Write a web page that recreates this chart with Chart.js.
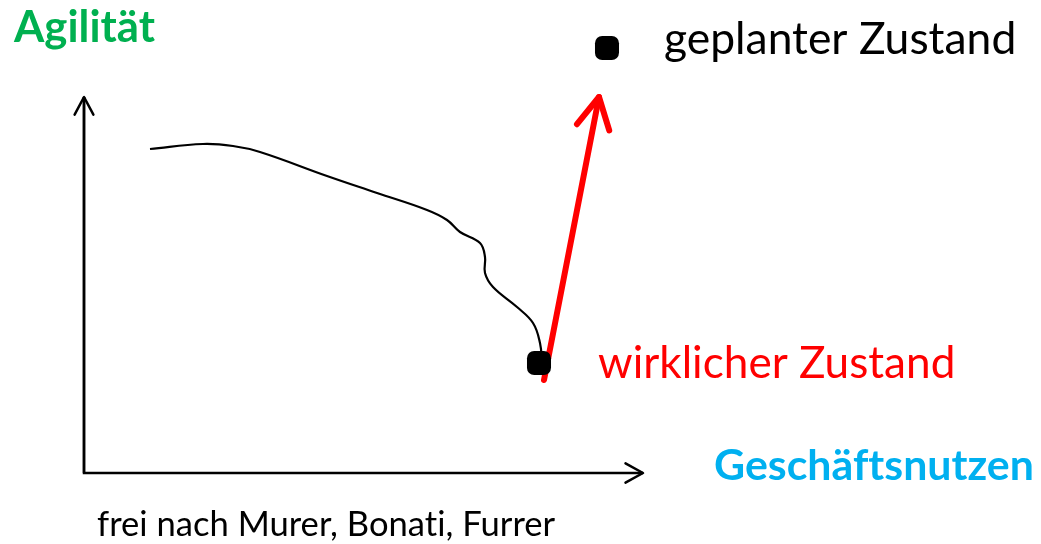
<!DOCTYPE html>
<html>
<head>
<meta charset="utf-8">
<script src="https://cdn.jsdelivr.net/npm/chart.js@4.4.0/dist/chart.umd.min.js"></script>
<style>
    html, body { margin: 0; padding: 0; background: #fff; }
</style>
</head>
<body>
<canvas id="grafico" width="1041" height="544"></canvas>
<script>
const achseX = [0, 0, 559];
const achseY = [376, 0, 0];

const kurveX = [66, 119, 149, 176, 243, 293, 343, 363, 376, 396, 401, 401, 409, 433, 449, 456, 458];
const kurveY = [324, 329, 327, 321, 297, 280, 263, 253, 241, 230, 216, 200, 186, 166, 150, 130, 110];

const pfeilX = [460, 515];
const pfeilY = [93, 376];

const istX = [455];
const istY = [110];
const planX = [523];
const planY = [425];

const texte = {
    yAchse: 'Agilität',
    xAchse: 'Geschäftsnutzen',
    plan: 'geplanter Zustand',
    ist: 'wirklicher Zustand',
    quelle: 'frei nach Murer, Bonati, Furrer'
};

const punkte = (xs, ys) => xs.map((x, i) => ({ x, y: ys[i] }));

// Pfeilspitzen am letzten Punkt einer Linie
const pfeilspitzen = {
    id: 'pfeilspitzen',
    afterDatasetsDraw(chart) {
        const ctx = chart.ctx;
        chart.data.datasets.forEach((ds, i) => {
            if (!ds.spitze) return;
            const pts = chart.getDatasetMeta(i).data;
            const a = pts[pts.length - 2], b = pts[pts.length - 1];
            const ang = Math.atan2(b.y - a.y, b.x - a.x);
            const len = ds.spitze.laenge, w = ds.spitze.winkel * Math.PI / 180;
            ctx.save();
            ctx.strokeStyle = ds.borderColor;
            ctx.lineWidth = ds.borderWidth;
            ctx.lineCap = 'round';
            ctx.lineJoin = 'round';
            ctx.beginPath();
            ctx.moveTo(b.x - len * Math.cos(ang - w), b.y - len * Math.sin(ang - w));
            ctx.lineTo(b.x, b.y);
            ctx.lineTo(b.x - len * Math.cos(ang + w), b.y - len * Math.sin(ang + w));
            ctx.stroke();
            ctx.restore();
        });
    }
};

// Beschriftungen, Schriftgrösse wird auf die Breite im Original angepasst
const beschriftung = {
    id: 'beschriftung',
    afterDraw(chart) {
        const ctx = chart.ctx;
        const schreib = (text, links, rechts, basis, farbe, fett) => {
            const stil = fett ? 'bold ' : '';
            ctx.font = stil + '100px Lato';
            const s = 100 * (rechts - links) / ctx.measureText(text).width;
            ctx.font = stil + s.toFixed(1) + 'px Lato';
            ctx.fillStyle = farbe;
            ctx.textBaseline = 'alphabetic';
            ctx.fillText(text, links, basis);
        };
        ctx.save();
        ctx.letterSpacing = '0.01px'; // keine Ligaturen (ti, ft)
        schreib(texte.yAchse, 14, 155, 42, '#00B050', true);
        schreib(texte.plan, 664, 1016, 54, '#000000', false);
        schreib(texte.ist, 598, 955, 378, '#FF0000', false);
        schreib(texte.xAchse, 714, 1034, 480, '#00B0F0', true);
        schreib(texte.quelle, 97, 555, 536, '#000000', false);
        ctx.restore();
    }
};

new Chart(document.getElementById('grafico'), {
    type: 'scatter',
    data: {
        datasets: [
            {
                data: punkte(istX, istY),
                pointStyle: 'rectRounded',
                pointRadius: 14,
                backgroundColor: '#000',
                borderWidth: 0,
                order: 0
            },
            {
                data: punkte(planX, planY),
                pointStyle: 'rectRounded',
                pointRadius: 14,
                backgroundColor: '#000',
                borderWidth: 0,
                order: 0
            },
            {
                data: punkte(kurveX, kurveY),
                showLine: true,
                tension: 0.4,
                borderColor: '#000',
                borderWidth: 2.2,
                pointRadius: 0,
                order: 1
            },
            {
                data: punkte(pfeilX, pfeilY),
                showLine: true,
                borderColor: '#FF0000',
                borderWidth: 6,
                borderCapStyle: 'round',
                pointRadius: 0,
                spitze: { laenge: 35, winkel: 28 },
                order: 2
            },
            {
                data: punkte(achseX, achseY),
                showLine: true,
                borderColor: '#000',
                borderWidth: 2.5,
                pointRadius: 0,
                spitze: { laenge: 20, winkel: 29 },
                order: 3
            },
            {
                data: punkte(achseX.slice(0, 2), achseY.slice(0, 2)).reverse(),
                showLine: true,
                borderColor: '#000',
                borderWidth: 2.5,
                pointRadius: 0,
                spitze: { laenge: 20, winkel: 28 },
                order: 3
            }
        ]
    },
    options: {
        responsive: false,
        animation: false,
        layout: { padding: 0, autoPadding: false },
        clip: false,
        plugins: {
            legend: { display: false },
            tooltip: { enabled: false }
        },
        scales: {
            x: { type: 'linear', display: false, min: -84, max: 957 },
            y: { type: 'linear', display: false, min: -71, max: 473 }
        }
    },
    plugins: [pfeilspitzen, beschriftung]
});
</script>
</body>
</html>
